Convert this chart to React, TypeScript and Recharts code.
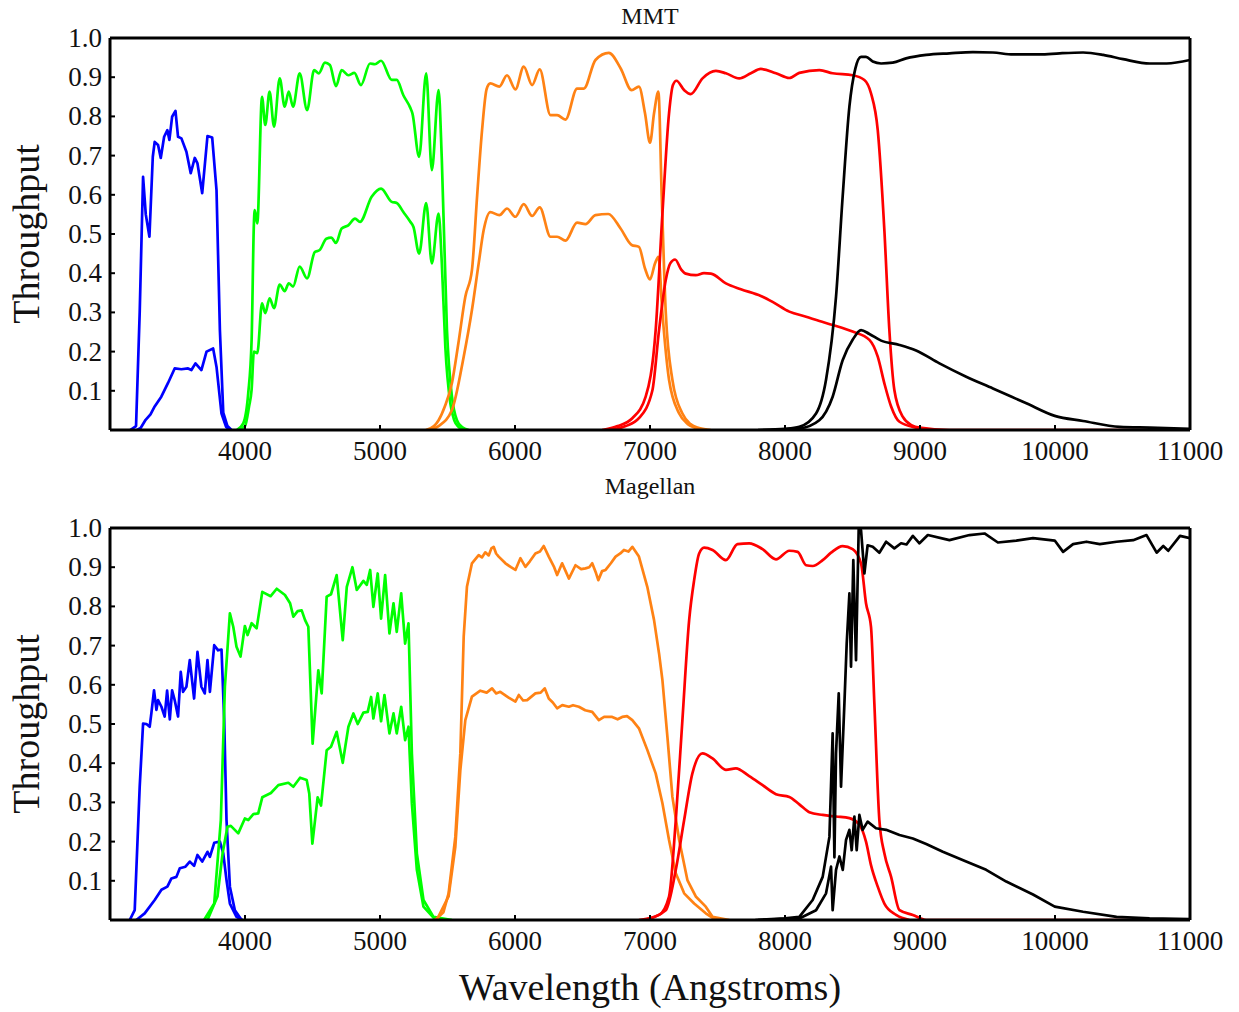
import React from 'react';
import { LineChart, Line, XAxis, YAxis } from 'recharts';

const FONT = '"Liberation Serif", "Times New Roman", serif';

// axis ticks
const xTicks = [4000, 5000, 6000, 7000, 8000, 9000, 10000, 11000];
const xMinorTicks = [3500, 4000, 4500, 5000, 5500, 6000, 6500, 7000, 7500, 8000, 8500, 9000, 9500, 10000, 10500];
const yTicks = [0.1, 0.2, 0.3, 0.4, 0.5, 0.6, 0.7, 0.8, 0.9, 1.0];
const yMinorTicks = [0.05, 0.1, 0.15, 0.2, 0.25, 0.3, 0.35, 0.4, 0.45, 0.5, 0.55, 0.6, 0.65, 0.7, 0.75, 0.8, 0.85, 0.9, 0.95];

const bandColors: Record<string, string> = {
  u: '#0000ff',
  g: '#00ff00',
  r: '#ff8214',
  i: '#ff0000',
  z: '#000000',
};

// ---- MMT: [wavelength (A), throughput] ----
const mmtUFilter = [[3150,0],[3193,0.01],[3220,0.3],[3245,0.646],[3265,0.55],[3292,0.493],[3317,0.697],[3331,0.735],[3356,0.727],[3376,0.694],[3401,0.748],[3425,0.765],[3440,0.74],[3460,0.799],[3485,0.814],[3504,0.748],[3529,0.744],[3566,0.71],[3598,0.655],[3628,0.694],[3648,0.68],[3683,0.604],[3722,0.75],[3757,0.746],[3789,0.612],[3814,0.255],[3839,0.044],[3870,0.01],[3900,0]];
const mmtUTotal = [[3200,0],[3227,0.005],[3264,0.026],[3300,0.04],[3331,0.06],[3380,0.085],[3430,0.12],[3479,0.157],[3529,0.155],[3578,0.157],[3603,0.153],[3633,0.17],[3677,0.153],[3715,0.2],[3764,0.208],[3789,0.161],[3826,0.042],[3860,0.008],[3888,0]];
const mmtGFilter = [[3940,0],[3987,0.017],[4024,0.094],[4049,0.23],[4066,0.527],[4072,0.561],[4091,0.527],[4126,0.85],[4150,0.778],[4182,0.863],[4215,0.774],[4257,0.897],[4294,0.825],[4324,0.863],[4356,0.825],[4405,0.91],[4460,0.816],[4512,0.918],[4547,0.91],[4592,0.937],[4629,0.931],[4674,0.877],[4716,0.918],[4765,0.905],[4810,0.911],[4859,0.88],[4926,0.935],[4963,0.933],[5008,0.942],[5087,0.893],[5124,0.893],[5173,0.854],[5223,0.823],[5240,0.808],[5290,0.697],[5342,0.91],[5384,0.663],[5434,0.867],[5458,0.689],[5496,0.255],[5533,0.085],[5570,0.025],[5607,0.008],[5657,0]];
const mmtGTotal = [[3960,0],[4000,0.01],[4030,0.06],[4049,0.103],[4066,0.2],[4091,0.196],[4126,0.323],[4150,0.298],[4182,0.336],[4215,0.311],[4257,0.371],[4294,0.354],[4324,0.374],[4356,0.366],[4405,0.417],[4460,0.387],[4517,0.454],[4553,0.459],[4602,0.488],[4639,0.491],[4674,0.477],[4716,0.514],[4765,0.522],[4815,0.539],[4852,0.531],[4938,0.595],[5008,0.616],[5087,0.582],[5124,0.579],[5173,0.556],[5223,0.532],[5248,0.518],[5290,0.45],[5342,0.579],[5384,0.425],[5434,0.552],[5458,0.425],[5484,0.212],[5521,0.068],[5550,0.025],[5582,0.008],[5620,0]];
const mmtRFilter = [[5340,0],[5400,0.01],[5434,0.025],[5480,0.06],[5533,0.12],[5580,0.22],[5632,0.34],[5681,0.408],[5720,0.6],[5756,0.765],[5790,0.87],[5817,0.884],[5884,0.876],[5941,0.905],[6003,0.869],[6065,0.927],[6127,0.88],[6183,0.92],[6263,0.803],[6312,0.803],[6374,0.792],[6460,0.871],[6510,0.871],[6596,0.944],[6695,0.962],[6782,0.923],[6864,0.867],[6918,0.876],[6963,0.808],[7000,0.733],[7030,0.808],[7062,0.863],[7087,0.595],[7117,0.298],[7166,0.128],[7240,0.042],[7300,0.015],[7364,0.005],[7450,0]];
const mmtRTotal = [[5360,0],[5434,0.01],[5533,0.051],[5620,0.187],[5681,0.306],[5731,0.425],[5768,0.51],[5817,0.556],[5884,0.548],[5941,0.565],[6003,0.544],[6065,0.576],[6127,0.546],[6183,0.568],[6263,0.493],[6312,0.493],[6374,0.483],[6460,0.529],[6522,0.525],[6596,0.548],[6691,0.551],[6782,0.514],[6864,0.472],[6918,0.467],[6963,0.412],[7000,0.384],[7037,0.425],[7062,0.442],[7092,0.298],[7141,0.128],[7216,0.042],[7280,0.015],[7339,0.005],[7420,0]];
const mmtIFilter = [[6646,0],[6760,0.01],[6869,0.03],[6968,0.085],[7042,0.255],[7092,0.552],[7141,0.808],[7170,0.88],[7196,0.891],[7253,0.867],[7302,0.857],[7389,0.897],[7488,0.916],[7562,0.91],[7661,0.897],[7747,0.91],[7821,0.921],[7933,0.91],[8032,0.898],[8106,0.911],[8255,0.918],[8353,0.91],[8501,0.905],[8588,0.893],[8637,0.859],[8687,0.765],[8736,0.51],[8773,0.255],[8810,0.102],[8872,0.034],[8940,0.012],[8996,0.006],[9218,0],[11000,0]];
const mmtITotal = [[6700,0],[6820,0.01],[6918,0.03],[7017,0.1],[7067,0.255],[7117,0.383],[7150,0.425],[7186,0.435],[7230,0.41],[7265,0.399],[7339,0.395],[7400,0.4],[7451,0.399],[7562,0.374],[7673,0.359],[7821,0.342],[7908,0.327],[8032,0.302],[8156,0.289],[8255,0.278],[8353,0.268],[8501,0.251],[8625,0.23],[8687,0.187],[8736,0.119],[8786,0.06],[8848,0.021],[8971,0.006],[9100,0]];
const mmtZFilter = [[7800,0],[8000,0.003],[8106,0.008],[8230,0.042],[8304,0.128],[8378,0.34],[8427,0.595],[8477,0.825],[8521,0.922],[8563,0.952],[8600,0.952],[8650,0.94],[8712,0.935],[8798,0.937],[8897,0.948],[9046,0.957],[9218,0.961],[9392,0.964],[9540,0.963],[9689,0.958],[9887,0.958],[10035,0.961],[10208,0.963],[10357,0.957],[10505,0.946],[10703,0.935],[10827,0.935],[11000,0.944]];
const mmtZTotal = [[7900,0],[8106,0.004],[8254,0.025],[8353,0.085],[8427,0.178],[8501,0.23],[8563,0.255],[8625,0.245],[8712,0.228],[8848,0.217],[8971,0.203],[9144,0.17],[9342,0.136],[9540,0.106],[9788,0.068],[9998,0.036],[10208,0.023],[10480,0.008],[10703,0.006],[11000,0.003]];

// ---- Magellan ----
const magUFilter = [[3146,0],[3183,0.025],[3220,0.34],[3245,0.501],[3270,0.5],[3294,0.493],[3307,0.529],[3326,0.586],[3344,0.536],[3356,0.561],[3381,0.544],[3405,0.519],[3423,0.585],[3443,0.512],[3460,0.586],[3479,0.561],[3504,0.519],[3524,0.633],[3541,0.582],[3566,0.595],[3591,0.663],[3623,0.565],[3648,0.684],[3677,0.595],[3702,0.578],[3722,0.663],[3740,0.582],[3772,0.701],[3801,0.688],[3826,0.69],[3846,0.51],[3863,0.255],[3888,0.085],[3925,0.025],[3975,0]];
const magUTotal = [[3195,0],[3257,0.017],[3331,0.051],[3381,0.077],[3425,0.085],[3455,0.106],[3492,0.11],[3517,0.132],[3559,0.136],[3591,0.149],[3623,0.138],[3648,0.166],[3683,0.149],[3722,0.174],[3740,0.161],[3772,0.197],[3814,0.2],[3839,0.17],[3863,0.102],[3888,0.042],[3937,0.008],[3980,0]];
const magGFilter = [[3697,0],[3772,0.042],[3821,0.255],[3851,0.595],[3888,0.782],[3913,0.748],[3937,0.697],[3967,0.672],[3999,0.75],[4019,0.727],[4049,0.757],[4086,0.744],[4128,0.837],[4190,0.826],[4235,0.845],[4296,0.829],[4334,0.808],[4358,0.774],[4390,0.788],[4420,0.79],[4445,0.765],[4469,0.748],[4501,0.45],[4543,0.637],[4568,0.578],[4605,0.825],[4637,0.831],[4679,0.88],[4724,0.714],[4754,0.85],[4796,0.9],[4828,0.842],[4877,0.865],[4902,0.855],[4927,0.893],[4951,0.799],[4983,0.884],[5008,0.769],[5038,0.88],[5070,0.731],[5100,0.808],[5124,0.735],[5157,0.833],[5186,0.705],[5211,0.757],[5236,0.425],[5273,0.17],[5322,0.051],[5396,0.008],[5533,0]];
const magGTotal = [[3722,0],[3796,0.06],[3834,0.17],[3870,0.238],[3895,0.24],[3950,0.221],[3999,0.259],[4024,0.255],[4062,0.27],[4098,0.272],[4128,0.313],[4192,0.324],[4247,0.344],[4321,0.35],[4358,0.34],[4408,0.363],[4457,0.357],[4476,0.323],[4499,0.195],[4538,0.313],[4563,0.292],[4605,0.433],[4637,0.442],[4679,0.48],[4724,0.401],[4766,0.493],[4803,0.527],[4835,0.5],[4877,0.529],[4909,0.531],[4934,0.569],[4951,0.514],[4983,0.578],[5008,0.507],[5033,0.574],[5070,0.476],[5100,0.527],[5124,0.476],[5157,0.544],[5186,0.459],[5211,0.493],[5236,0.298],[5273,0.128],[5322,0.034],[5396,0.006],[5500,0]];
const magRFilter = [[5408,0],[5470,0.02],[5508,0.068],[5558,0.212],[5595,0.425],[5620,0.723],[5644,0.85],[5681,0.91],[5705,0.92],[5731,0.931],[5755,0.925],[5780,0.938],[5805,0.93],[5825,0.948],[5842,0.952],[5860,0.935],[5879,0.927],[5929,0.91],[5970,0.9],[6003,0.893],[6040,0.923],[6077,0.901],[6110,0.915],[6151,0.935],[6185,0.94],[6213,0.954],[6250,0.927],[6290,0.9],[6312,0.88],[6349,0.91],[6375,0.89],[6399,0.871],[6448,0.905],[6490,0.895],[6522,0.897],[6550,0.9],[6572,0.91],[6600,0.885],[6617,0.867],[6645,0.89],[6671,0.893],[6710,0.91],[6745,0.927],[6780,0.935],[6807,0.944],[6840,0.94],[6869,0.952],[6918,0.927],[6980,0.85],[7030,0.765],[7067,0.68],[7092,0.612],[7129,0.467],[7166,0.314],[7216,0.204],[7277,0.102],[7339,0.06],[7413,0.034],[7463,0.008],[7587,0]];
const magRTotal = [[5420,0],[5508,0.06],[5558,0.187],[5595,0.382],[5632,0.51],[5681,0.57],[5743,0.585],[5790,0.58],[5830,0.591],[5860,0.578],[5891,0.582],[5950,0.568],[6003,0.557],[6028,0.574],[6060,0.56],[6090,0.561],[6151,0.578],[6190,0.58],[6220,0.591],[6250,0.565],[6280,0.555],[6312,0.54],[6350,0.548],[6399,0.544],[6430,0.548],[6473,0.544],[6520,0.535],[6572,0.531],[6621,0.51],[6660,0.518],[6720,0.518],[6760,0.512],[6794,0.518],[6830,0.52],[6869,0.51],[6918,0.489],[6980,0.434],[7042,0.374],[7092,0.298],[7141,0.204],[7191,0.119],[7253,0.068],[7327,0.042],[7413,0.017],[7488,0]];
const magIFilter = [[6918,0],[7067,0.013],[7141,0.06],[7191,0.255],[7240,0.51],[7290,0.765],[7327,0.867],[7364,0.935],[7401,0.95],[7463,0.944],[7562,0.918],[7648,0.959],[7735,0.961],[7834,0.946],[7933,0.92],[8032,0.942],[8094,0.939],[8156,0.905],[8205,0.903],[8279,0.918],[8341,0.937],[8427,0.954],[8501,0.946],[8563,0.91],[8600,0.808],[8637,0.748],[8662,0.552],[8699,0.255],[8736,0.17],[8786,0.11],[8848,0.025],[8947,0.013],[9046,0],[11000,0]];
const magITotal = [[6950,0],[7117,0.025],[7191,0.128],[7253,0.255],[7314,0.374],[7389,0.425],[7463,0.412],[7562,0.383],[7636,0.387],[7735,0.367],[7834,0.344],[7933,0.321],[8032,0.314],[8106,0.295],[8180,0.275],[8279,0.268],[8378,0.264],[8477,0.26],[8551,0.243],[8600,0.2],[8637,0.14],[8687,0.085],[8736,0.042],[8823,0.013],[8922,0]];
const magZFilter = [[7780,0],[8000,0.004],[8106,0.008],[8205,0.051],[8279,0.11],[8329,0.212],[8353,0.476],[8366,0.16],[8378,0.425],[8398,0.578],[8415,0.34],[8440,0.552],[8457,0.705],[8477,0.833],[8489,0.646],[8506,0.918],[8526,0.663],[8546,1.0],[8563,0.995],[8588,0.884],[8612,0.956],[8650,0.952],[8699,0.937],[8749,0.965],[8810,0.948],[8860,0.961],[8900,0.958],[8947,0.98],[8996,0.961],[9058,0.982],[9218,0.969],[9367,0.982],[9478,0.986],[9577,0.963],[9713,0.968],[9837,0.974],[9998,0.968],[10060,0.939],[10134,0.959],[10233,0.965],[10332,0.959],[10456,0.965],[10579,0.969],[10678,0.982],[10753,0.937],[10802,0.954],[10839,0.942],[10926,0.98],[11000,0.974]];
const magZTotal = [[7800,0],[8106,0.004],[8230,0.025],[8304,0.068],[8341,0.136],[8353,0.025],[8378,0.128],[8403,0.162],[8428,0.128],[8452,0.204],[8477,0.23],[8494,0.178],[8514,0.264],[8531,0.178],[8551,0.268],[8575,0.23],[8612,0.251],[8674,0.234],[8749,0.23],[8848,0.217],[8947,0.208],[9046,0.194],[9169,0.174],[9342,0.149],[9490,0.128],[9639,0.098],[9837,0.065],[9998,0.034],[10208,0.021],[10456,0.008],[10700,0.004],[11000,0.002]];

type Series = { key: string; band: string; points: number[][]; curve: 'monotone' | 'linear' };

const mmtSeries: Series[] = [
  { key: 'uF', band: 'u', points: mmtUFilter, curve: 'linear' },
  { key: 'uT', band: 'u', points: mmtUTotal, curve: 'linear' },
  { key: 'gF', band: 'g', points: mmtGFilter, curve: 'monotone' },
  { key: 'gT', band: 'g', points: mmtGTotal, curve: 'monotone' },
  { key: 'rF', band: 'r', points: mmtRFilter, curve: 'monotone' },
  { key: 'rT', band: 'r', points: mmtRTotal, curve: 'monotone' },
  { key: 'iF', band: 'i', points: mmtIFilter, curve: 'monotone' },
  { key: 'iT', band: 'i', points: mmtITotal, curve: 'monotone' },
  { key: 'zF', band: 'z', points: mmtZFilter, curve: 'monotone' },
  { key: 'zT', band: 'z', points: mmtZTotal, curve: 'monotone' },
];

const magSeries: Series[] = [
  { key: 'uF', band: 'u', points: magUFilter, curve: 'linear' },
  { key: 'uT', band: 'u', points: magUTotal, curve: 'linear' },
  { key: 'gF', band: 'g', points: magGFilter, curve: 'linear' },
  { key: 'gT', band: 'g', points: magGTotal, curve: 'linear' },
  { key: 'rF', band: 'r', points: magRFilter, curve: 'linear' },
  { key: 'rT', band: 'r', points: magRTotal, curve: 'linear' },
  { key: 'iF', band: 'i', points: magIFilter, curve: 'monotone' },
  { key: 'iT', band: 'i', points: magITotal, curve: 'monotone' },
  { key: 'zF', band: 'z', points: magZFilter, curve: 'linear' },
  { key: 'zT', band: 'z', points: magZTotal, curve: 'linear' },
];

function BottomTick({ x, y, payload }: any) {
  return (
    <g>
      <line x1={x} y1={y} x2={x} y2={y - 5} stroke="#000" strokeWidth={2} />
      <text x={x} y={y + 30} textAnchor="middle" fontFamily={FONT} fontSize={27} fill="#111">
        {payload.value}
      </text>
    </g>
  );
}

function TopTick({ x, y }: any) {
  return <line x1={x} y1={y} x2={x} y2={y + 4} stroke="#000" strokeWidth={2} />;
}

function LeftTick({ x, y, payload }: any) {
  return (
    <g>
      <line x1={x} y1={y} x2={x + 5} y2={y} stroke="#000" strokeWidth={2} />
      <text x={x - 8} y={y + 9} textAnchor="end" fontFamily={FONT} fontSize={27} fill="#111">
        {Number(payload.value).toFixed(1)}
      </text>
    </g>
  );
}

function RightTick({ x, y, index }: any) {
  const major = index % 2 === 1;
  return (
    <line
      x1={x}
      y1={y}
      x2={x - (major ? 5 : 3)}
      y2={y}
      stroke={major ? '#000' : '#999'}
      strokeWidth={2}
    />
  );
}

function Panel({ series }: { series: Series[] }) {
  const axis = { stroke: '#000', strokeWidth: 3 };
  return (
    <LineChart width={1239} height={480} margin={{ top: 37, right: 48, bottom: 0, left: 50 }}>
      <XAxis
        dataKey="x"
        type="number"
        domain={[3000, 11000]}
        ticks={xTicks}
        interval={0}
        allowDataOverflow
        height={50}
        axisLine={axis}
        tickLine={false}
        tickSize={0}
        tickMargin={0}
        tick={<BottomTick />}
      />
      <XAxis
        xAxisId="top"
        orientation="top"
        dataKey="x"
        type="number"
        domain={[3000, 11000]}
        ticks={xMinorTicks}
        interval={0}
        height={1}
        axisLine={axis}
        tickLine={false}
        tickSize={0}
        tickMargin={0}
        tick={<TopTick />}
      />
      <YAxis
        type="number"
        domain={[0, 1]}
        ticks={yTicks}
        interval={0}
        allowDataOverflow
        width={60}
        axisLine={axis}
        tickLine={false}
        tickSize={0}
        tickMargin={0}
        tick={<LeftTick />}
      />
      <YAxis
        yAxisId="right"
        orientation="right"
        type="number"
        domain={[0, 1]}
        ticks={yMinorTicks}
        interval={0}
        width={1}
        axisLine={axis}
        tickLine={false}
        tickSize={0}
        tickMargin={0}
        tick={<RightTick />}
      />
      {series.map((s) => (
        <Line
          key={s.key}
          data={s.points.map(([x, y]) => ({ x, y }))}
          dataKey="y"
          type={s.curve}
          stroke={bandColors[s.band]}
          strokeWidth={2.7}
          strokeLinejoin="round"
          dot={false}
          activeDot={false}
          isAnimationActive={false}
        />
      ))}
    </LineChart>
  );
}

const textBase: React.CSSProperties = {
  position: 'absolute',
  fontFamily: FONT,
  color: '#111',
  whiteSpace: 'nowrap',
  lineHeight: 1.2,
  transform: 'translate(-50%, -50%)',
};

export default function App() {
  return (
    <div style={{ position: 'absolute', left: 0, top: 0, width: 1239, height: 1012, background: '#fff' }}>
      <div style={{ position: 'absolute', left: 0, top: 0 }}>
        <Panel series={mmtSeries} />
      </div>
      <div style={{ position: 'absolute', left: 0, top: 490 }}>
        <Panel series={magSeries} />
      </div>
      <div style={{ ...textBase, left: 650, top: 16, fontSize: 24 }}>MMT</div>
      <div style={{ ...textBase, left: 650, top: 486, fontSize: 24 }}>Magellan</div>
      <div style={{ ...textBase, left: 27, top: 234, fontSize: 38, transform: 'translate(-50%, -50%) rotate(-90deg)' }}>
        Throughput
      </div>
      <div style={{ ...textBase, left: 27, top: 724, fontSize: 38, transform: 'translate(-50%, -50%) rotate(-90deg)' }}>
        Throughput
      </div>
      <div style={{ ...textBase, left: 650, top: 988, fontSize: 38 }}>Wavelength (Angstroms)</div>
    </div>
  );
}
